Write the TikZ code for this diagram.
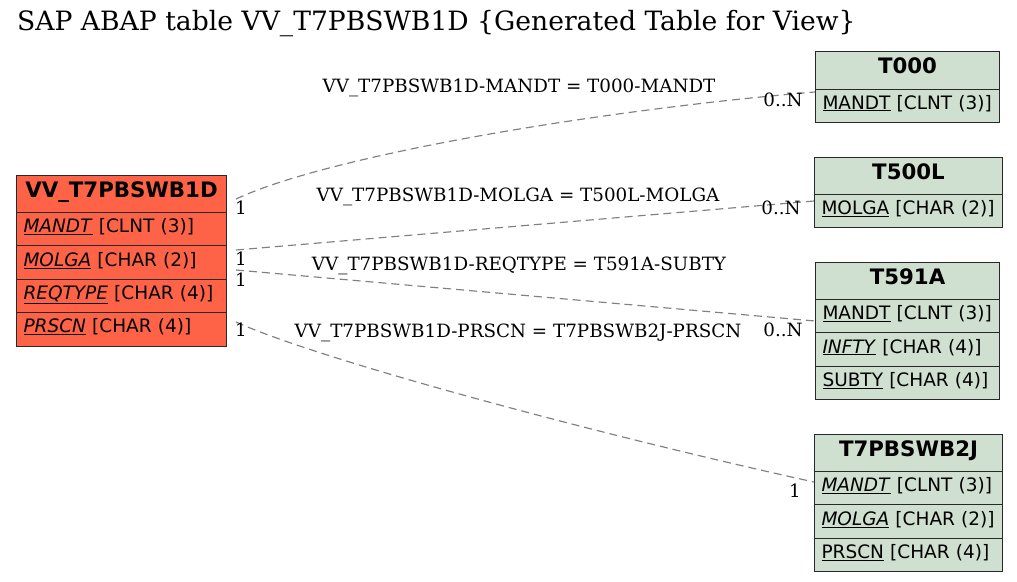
\documentclass[tikz,border=0pt]{standalone}
\usepackage{fontspec}
\newfontfamily\dvs{DejaVu Sans}
\newfontfamily\dvserif{DejaVu Serif}
\definecolor{redfill}{RGB}{255,99,71}
\definecolor{grnfill}{RGB}{208,224,208}
\definecolor{edgegray}{RGB}{128,128,128}
\definecolor{boxline}{RGB}{40,40,40}
\begin{document}
\begin{tikzpicture}[x=1pt,y=-1pt,
  hdr/.style={draw=boxline, line width=1pt, anchor=north west, inner sep=0pt,
    minimum height=37.5pt, align=center, text height=13pt, text depth=6.5pt,
    font=\dvs\bfseries\fontsize{21.3}{24}\selectfont},
  fld/.style={draw=boxline, line width=1pt, anchor=north west, inner xsep=7pt, inner ysep=0pt,
    minimum height=33.4pt, align=left, text height=12pt, text depth=5pt,
    font=\dvs\fontsize{18.5}{22}\selectfont},
  red/.style={fill=redfill},
  grn/.style={fill=grnfill},
  edge/.style={draw=edgegray, line width=1.15pt, dash pattern=on 8pt off 5pt},
  lbl/.style={inner sep=0pt, font=\dvserif\fontsize{18.3}{22}\selectfont},
  card/.style={inner sep=0pt, font=\dvserif\fontsize{18.3}{22}\selectfont}
]
\useasboundingbox (0,0) rectangle (1017,581);
\fill[white] (0,0) rectangle (1017,581);

\node[anchor=base west, inner sep=0pt, font=\dvserif\fontsize{26.6}{30}\selectfont] (title) at (17,30)
  {SAP ABAP table VV\_T7PBSWB1D \{Generated Table for View\}};

% main table
\node[hdr, red, minimum width=210pt] (mh) at (16,175) {VV\_T7PBSWB1D};
\node[fld, red, text width=196pt] (m1) at (16,212) {\underline{\textit{MANDT}} [CLNT (3)]};
\node[fld, red, text width=196pt] (m2) at (16,245.4) {\underline{\textit{MOLGA}} [CHAR (2)]};
\node[fld, red, text width=196pt] (m3) at (16,278.8) {\underline{\textit{REQTYPE}} [CHAR (4)]};
\node[fld, red, text width=196pt] (m4) at (16,312.2) {\underline{\textit{PRSCN}} [CHAR (4)]};

% T000
\node[hdr, grn, minimum width=184pt] (ah) at (815,51) {T000};
\node[fld, grn, text width=170pt] (a1) at (815,88.5) {\underline{MANDT} [CLNT (3)]};

% T500L
\node[hdr, grn, minimum width=188pt] (bh) at (814,157) {T500L};
\node[fld, grn, text width=174pt] (b1) at (814,194) {\underline{MOLGA} [CHAR (2)]};

% T591A
\node[hdr, grn, minimum width=184pt] (ch) at (815,262) {T591A};
\node[fld, grn, text width=170pt] (c1) at (815,299) {\underline{MANDT} [CLNT (3)]};
\node[fld, grn, text width=170pt] (c2) at (815,332.4) {\underline{\textit{INFTY}} [CHAR (4)]};
\node[fld, grn, text width=170pt] (c3) at (815,365.8) {\underline{SUBTY} [CHAR (4)]};

% T7PBSWB2J
\node[hdr, grn, minimum width=188pt] (dh) at (814,434) {T7PBSWB2J};
\node[fld, grn, text width=174pt] (d1) at (814,471) {\underline{\textit{MANDT}} [CLNT (3)]};
\node[fld, grn, text width=174pt] (d2) at (814,504.4) {\underline{\textit{MOLGA}} [CHAR (2)]};
\node[fld, grn, text width=174pt] (d3) at (814,537.8) {\underline{PRSCN} [CHAR (4)]};

% connector end points
\coordinate (e1s) at (236,199);
\coordinate (e1t) at (a1.west |- 0,92);
\coordinate (e2s) at (236,250);
\coordinate (e2t) at (b1.west |- 0,201);
\coordinate (e3s) at (236,270);
\coordinate (e3t) at (c1.west |- 0,321);
\coordinate (e4s) at (236,322);
\coordinate (e4t) at (d1.west |- 0,482);

\draw[edge] (e1s) .. controls (330,155) and (600,110) .. (e1t);
\draw[edge] (e2s) -- (e2t);
\draw[edge] (e3s) -- (e3t);
\draw[edge] (e4s) .. controls (320,360) and (600,435) .. (e4t);

\node[lbl] (l1) at (519,87.5) {VV\_T7PBSWB1D-MANDT = T000-MANDT};
\node[lbl] (l2) at (518,196.5) {VV\_T7PBSWB1D-MOLGA = T500L-MOLGA};
\node[lbl] (l3) at (519,265.5) {VV\_T7PBSWB1D-REQTYPE = T591A-SUBTY};
\node[lbl] (l4) at (518,332.5) {VV\_T7PBSWB1D-PRSCN = T7PBSWB2J-PRSCN};

\node[card] (c1s) at (241,208) {1};
\node[card] (c2s) at (241,259) {1};
\node[card] (c3s) at (241,280) {1};
\node[card] (c4s) at (241,330) {1};
\node[card] (c1t) at (783,100) {0..N};
\node[card] (c2t) at (781,208) {0..N};
\node[card] (c3t) at (783,330) {0..N};
\node[card] (c4t) at (795,491) {1};
\end{tikzpicture}
\end{document}
